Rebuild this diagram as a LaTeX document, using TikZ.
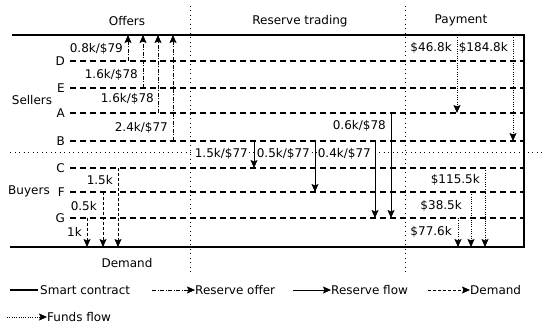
\documentclass[tikz,border=0pt]{standalone}
\usepackage{fontspec}
\setmainfont{DejaVu Sans}
\usetikzlibrary{arrows.meta}
\begin{document}
\begin{tikzpicture}[x=1pt,y=-1pt,
  every node/.style={font=\fontsize{12}{14}\selectfont, inner sep=0pt},
  contract/.style={line width=2.6pt},
  party/.style={line width=1.8pt, dash pattern=on 6pt off 4pt},
  divider/.style={line width=1pt, dash pattern=on 1pt off 3.5pt},
  tip/.style={-{Stealth[length=8pt,width=7pt,inset=1.5pt]}},
  offer/.style={tip, line width=0.7pt, dash pattern=on 4pt off 1.5pt on 1pt off 1.5pt},
  rflow/.style={tip, line width=0.9pt},
  demand/.style={tip, line width=0.8pt, dash pattern=on 3pt off 2pt},
  funds/.style={tip, line width=0.7pt, dash pattern=on 0.7pt off 1.6pt},
  rlabel/.style={fill=white, inner sep=1pt},
]
\useasboundingbox (0,0) rectangle (550,328);

% column dividers and buyer/seller separator
\coordinate (v1t) at (190,6);  \coordinate (v1b) at (190,274);
\coordinate (v2t) at (405,6);  \coordinate (v2b) at (405,274);
\coordinate (hsl) at (10,153); \coordinate (hsr) at (545,153);
\draw[divider] (v1t) -- (v1b);
\draw[divider] (v2t) -- (v2b);
\draw[divider] (hsl) -- (hsr);

% titles
\node (tOff) at (127,21) {Offers};
\node (tRes) at (300,21) {Reserve trading};
\node (tPay) at (461,20) {Payment};
\node (tDem) at (127,263) {Demand};
\node (tSel) at (32,100) {Sellers};
\node (tBuy) at (29,191) {Buyers};

% party lines
\foreach \n/\y in {D/61,E/88,A/113,B/141,C/168,F/192,G/218}{
  \node[anchor=east] (l\n) at (65,\y) {\n};
  \coordinate (s\n) at (70,\y);
  \coordinate (e\n) at (524,\y);
  \draw[party] (s\n) -- (e\n);
}

% smart contract
\coordinate (ctl) at (12,35);
\coordinate (ctr) at (524,35);
\coordinate (cbr) at (524,247);
\coordinate (cbl) at (10,247);
\draw[contract] (ctl) -- (ctr) -- (cbr) -- (cbl);

% offers (sellers -> contract)
\foreach \n/\x/\y in {D/128/61,E/143/88,A/158/113,B/173/141}{
  \coordinate (ofs\n) at (\x,\y);
  \coordinate (ofe\n) at (\x,35);
  \draw[offer] (ofs\n) -- (ofe\n);
}
\node[anchor=east] (oL1) at (123,49) {0.8k/\$79};
\node[anchor=east] (oL2) at (138,75) {1.6k/\$78};
\node[anchor=east] (oL3) at (154,99) {1.6k/\$78};
\node[anchor=east] (oL4) at (168,128) {2.4k/\$77};

% demand (buyers -> contract)
\foreach \n/\x/\y in {C/118/168,F/103/192,G/87/218}{
  \coordinate (dms\n) at (\x,\y);
  \coordinate (dme\n) at (\x,247);
  \draw[demand] (dms\n) -- (dme\n);
}
\node[anchor=east] (dL1) at (113,180) {1.5k};
\node[anchor=east] (dL2) at (97,206) {0.5k};
\node[anchor=east] (dL3) at (82,232) {1k};

% reserve flows
\coordinate (r1s) at (254,141); \coordinate (r1e) at (254,168);
\coordinate (r2s) at (315,141); \coordinate (r2e) at (315,192);
\coordinate (r3s) at (375,141); \coordinate (r3e) at (375,218);
\coordinate (r4s) at (391,113); \coordinate (r4e) at (391,218);
\draw[rflow] (r1s) -- (r1e);
\draw[rflow] (r2s) -- (r2e);
\draw[rflow] (r3s) -- (r3e);
\draw[rflow] (r4s) -- (r4e);
\node[rlabel,anchor=east] (rL1) at (249,154) {1.5k/\$77};
\node[rlabel,anchor=east] (rL2) at (311,154) {0.5k/\$77};
\node[rlabel,anchor=east] (rL3) at (372,154) {0.4k/\$77};
\node[rlabel,anchor=east] (rL4) at (387,126) {0.6k/\$78};

% funds flows
\coordinate (f1s) at (457,35);  \coordinate (f1e) at (457,113);
\coordinate (f2s) at (513,35);  \coordinate (f2e) at (513,141);
\coordinate (f3s) at (485,168); \coordinate (f3e) at (485,247);
\coordinate (f4s) at (471,192); \coordinate (f4e) at (471,247);
\coordinate (f5s) at (458,218); \coordinate (f5e) at (458,247);
\foreach \k in {1,...,5}{ \draw[funds] (f\k s) -- (f\k e); }
\node[anchor=east] (pL1) at (452,48) {\$46.8k};
\node[anchor=east] (pL2) at (508,48) {\$184.8k};
\node[anchor=east] (pL3) at (480,180) {\$115.5k};
\node[anchor=east] (pL4) at (462,206) {\$38.5k};
\node[anchor=east] (pL5) at (452,232) {\$77.6k};

% legend
\coordinate (k1a) at (10,290);  \coordinate (k1b) at (38,290);
\draw[line width=1.8pt] (k1a) -- (k1b);
\node[anchor=west] (k1t) at (40,290) {Smart contract};
\coordinate (k2a) at (152,290); \coordinate (k2b) at (195,290);
\draw[offer] (k2a) -- (k2b);
\node[anchor=west] (k2t) at (k2b) {Reserve offer};
\coordinate (k3a) at (293,290); \coordinate (k3b) at (331,290);
\draw[rflow] (k3a) -- (k3b);
\node[anchor=west] (k3t) at (k3b) {Reserve flow};
\coordinate (k4a) at (428,290); \coordinate (k4b) at (470,290);
\draw[demand] (k4a) -- (k4b);
\node[anchor=west] (k4t) at (k4b) {Demand};
\coordinate (k5a) at (7,317); \coordinate (k5b) at (47,317);
\draw[funds] (k5a) -- (k5b);
\node[anchor=west] (k5t) at (k5b) {Funds flow};
\end{tikzpicture}
\end{document}
